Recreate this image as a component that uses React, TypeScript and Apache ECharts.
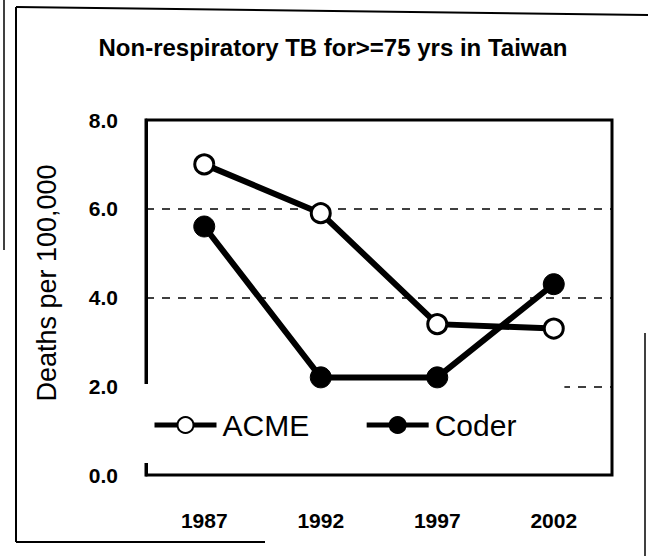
import React, { useEffect, useRef } from "react";
import * as echarts from "echarts";

const years = ["1987", "1992", "1997", "2002"];
const acme = [7.0, 5.9, 3.4, 3.3];
const coder = [5.6, 2.2, 2.2, 4.3];
const yTicks = ["0.0", "2.0", "4.0", "6.0", "8.0"];
const titleText = "Non-respiratory TB for>=75 yrs in Taiwan";
const yName = "Deaths per 100,000";

const FONT = "Liberation Sans, Arial, sans-serif";

export default function App() {
  const ref = useRef<HTMLDivElement>(null);
  useEffect(() => {
    document.body.style.margin = "0";
    const chart = echarts.init(ref.current!, null, { renderer: "svg" });
    chart.setOption({
      animation: false,
      backgroundColor: "#ffffff",
      title: {
        text: titleText,
        left: 328,
        textAlign: "center",
        top: 30,
        textStyle: { fontFamily: FONT, fontSize: 24, fontWeight: "bold", color: "#000" },
      },
      grid: {
        left: 146,
        right: 36,
        top: 120,
        bottom: 81,
        show: true,
        borderColor: "#000",
        borderWidth: 3,
        backgroundColor: "transparent",
      },
      legend: {
        left: 144,
        top: 384,
        padding: [26, 48, 23, 8],
        backgroundColor: "#ffffff",
        itemWidth: 62,
        itemHeight: 20,
        itemGap: 55,
        z: 4,
        lineStyle: { width: 5, color: "#000" },
        textStyle: { fontFamily: FONT, fontSize: 30, color: "#000", padding: [0, 0, 0, 1] },
        data: ["ACME", "Coder"],
      },
      xAxis: {
        type: "category",
        data: years,
        boundaryGap: true,
        axisLine: { show: true, lineStyle: { color: "#000", width: 2 } },
        axisTick: { show: false },
        axisLabel: {
          margin: 35,
          fontFamily: FONT,
          fontSize: 21,
          fontWeight: "bold",
          color: "#000",
        },
      },
      yAxis: {
        type: "value",
        min: 0,
        max: 8,
        interval: 2,
        axisLine: { show: true, lineStyle: { color: "#000", width: 3 } },
        axisTick: { show: false },
        axisLabel: {
          margin: 28,
          fontFamily: FONT,
          fontSize: 21,
          fontWeight: "bold",
          color: "#000",
          formatter: (v: number) => yTicks[Math.round(v / 2)] ?? v.toFixed(1),
        },
        splitLine: {
          show: true,
          lineStyle: { color: "#000", width: 1.5, type: [8, 8] },
        },
      },
      series: [
        {
          name: "ACME",
          type: "line",
          data: acme,
          symbol: "circle",
          symbolSize: 19,
          lineStyle: { color: "#000", width: 6 },
          itemStyle: { color: "#ffffff", borderColor: "#000", borderWidth: 3 },
          z: 6,
        },
        {
          name: "Coder",
          type: "line",
          data: coder,
          symbol: "circle",
          symbolSize: 21,
          lineStyle: { color: "#000", width: 6 },
          itemStyle: { color: "#000", borderColor: "#000", borderWidth: 1 },
          z: 6,
        },
      ],
      graphic: [
        {
          type: "text",
          x: 47,
          y: 283,
          rotation: Math.PI / 2,
          style: {
            text: yName,
            fontFamily: FONT,
            fontSize: 27,
            fill: "#000",
            align: "center",
            verticalAlign: "middle",
          },
        },
        { type: "line", shape: { x1: 16, y1: 7, x2: 648, y2: 15 }, style: { stroke: "#000", lineWidth: 2 } },
        { type: "line", shape: { x1: 16, y1: 7, x2: 16, y2: 542 }, style: { stroke: "#000", lineWidth: 2 } },
        { type: "line", shape: { x1: 16, y1: 542, x2: 265, y2: 542 }, style: { stroke: "#000", lineWidth: 2 } },
        { type: "line", shape: { x1: 4, y1: 0, x2: 4, y2: 250 }, style: { stroke: "#000", lineWidth: 1.5 } },
        { type: "line", shape: { x1: 645, y1: 333, x2: 645, y2: 556 }, style: { stroke: "#000", lineWidth: 1.5 } },
      ],
    });
    return () => chart.dispose();
  }, []);
  return <div ref={ref} style={{ width: 648, height: 556 }} />;
}
